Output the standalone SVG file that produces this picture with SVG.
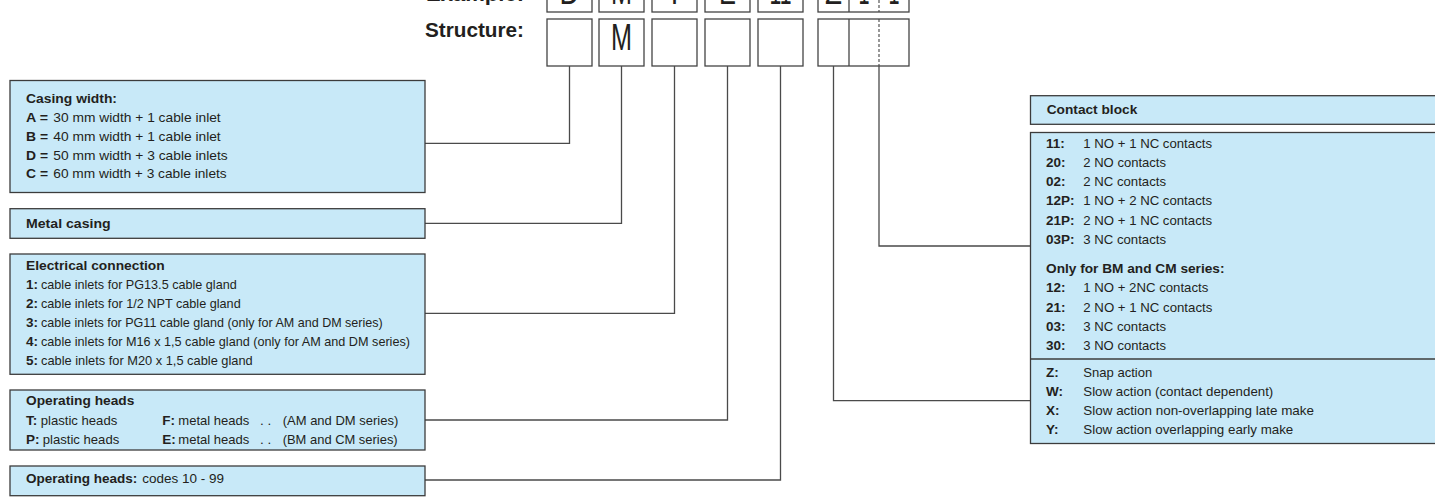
<svg xmlns="http://www.w3.org/2000/svg" width="1435" height="497" viewBox="0 0 1435 497">
<style>
.box{fill:#c8e9f8;stroke:#3c3c3c;stroke-width:1.3}
.sb{fill:#fff;stroke:#444;stroke-width:1.3}
.dash{fill:none;stroke:#444;stroke-width:1.1;stroke-dasharray:3 2}
.wire{fill:none;stroke:#4a4a4a;stroke-width:1.3}
.t{font-family:"Liberation Sans",Arial,sans-serif;font-size:13.5px;fill:#231f20}
.t text{font-family:"Liberation Sans",Arial,sans-serif;font-size:13.5px;fill:#231f20}
.b{font-weight:bold}
.big{font-family:"Liberation Sans",Arial,sans-serif;font-size:37px;fill:#231f20;text-anchor:middle}
.lab{font-family:"Liberation Sans",Arial,sans-serif;font-size:21px;font-weight:bold;fill:#231f20;text-anchor:end}
</style>
<rect width="1435" height="497" fill="#fff"/>

<g id="header">
  <text class="lab" x="524" y="1" textLength="98" lengthAdjust="spacingAndGlyphs">Example:</text>
  <text class="lab" x="524" y="37" textLength="99" lengthAdjust="spacingAndGlyphs">Structure:</text>
</g>

<g id="example-row">
  <rect class="sb" x="547" y="-35" width="45" height="47"/>
  <rect class="sb" x="599" y="-35" width="45" height="47"/>
  <rect class="sb" x="652" y="-35" width="45" height="47"/>
  <rect class="sb" x="705" y="-35" width="45" height="47"/>
  <rect class="sb" x="758" y="-35" width="45" height="47"/>
  <rect class="sb" x="818" y="-35" width="91" height="47"/>
  <line x1="849" y1="-35" x2="849" y2="12" stroke="#444" stroke-width="1.3"/>
  <line class="dash" x1="879" y1="-35" x2="879" y2="12"/>
  <text class="big" x="569.5" y="4" textLength="20" lengthAdjust="spacingAndGlyphs">D</text>
  <text class="big" x="621.5" y="4" textLength="21" lengthAdjust="spacingAndGlyphs">M</text>
  <text class="big" x="674.5" y="4" textLength="17" lengthAdjust="spacingAndGlyphs">T</text>
  <text class="big" x="727.5" y="4" textLength="17" lengthAdjust="spacingAndGlyphs">E</text>
  <text class="big" x="780.5" y="4" textLength="22" lengthAdjust="spacingAndGlyphs">11</text>
  <text class="big" x="833.5" y="4" textLength="17" lengthAdjust="spacingAndGlyphs">Z</text>
  <text class="big" x="864" y="4" textLength="11" lengthAdjust="spacingAndGlyphs">1</text>
  <text class="big" x="894" y="4" textLength="11" lengthAdjust="spacingAndGlyphs">1</text>
</g>

<g id="structure-row">
  <rect class="sb" x="547" y="19" width="45" height="47"/>
  <rect class="sb" x="599" y="19" width="45" height="47"/>
  <rect class="sb" x="652" y="19" width="45" height="47"/>
  <rect class="sb" x="705" y="19" width="45" height="47"/>
  <rect class="sb" x="758" y="19" width="45" height="47"/>
  <rect class="sb" x="818" y="19" width="91" height="47"/>
  <line x1="849" y1="19" x2="849" y2="66" stroke="#444" stroke-width="1.3"/>
  <line class="dash" x1="879" y1="19" x2="879" y2="66"/>
  <text class="big" x="621.5" y="50" textLength="21" lengthAdjust="spacingAndGlyphs">M</text>
</g>

<g id="connectors">
  <path class="wire" d="M569.5 66 V143.3 H425"/>
  <path class="wire" d="M621.5 66 V223.3 H425"/>
  <path class="wire" d="M674.5 66 V313.3 H425"/>
  <path class="wire" d="M727.5 66 V420 H425"/>
  <path class="wire" d="M780.5 66 V480 H425"/>
  <path class="wire" d="M833.5 66 V400.7 H1030"/>
  <path class="wire" d="M879 66 V246 H1030"/>
</g>

<g id="casing-width" class="t">
  <rect class="box" x="10" y="80.5" width="415" height="112"/>
  <text class="b" x="26" y="103" textLength="91" lengthAdjust="spacingAndGlyphs">Casing width:</text>
  <text class="b" x="26" y="122" textLength="22" lengthAdjust="spacingAndGlyphs">A =</text>
  <text x="53.3" y="122" textLength="167.4" lengthAdjust="spacingAndGlyphs">30 mm width + 1 cable inlet</text>
  <text class="b" x="26" y="140.7" textLength="22" lengthAdjust="spacingAndGlyphs">B =</text>
  <text x="53.3" y="140.7" textLength="167.4" lengthAdjust="spacingAndGlyphs">40 mm width + 1 cable inlet</text>
  <text class="b" x="26" y="159.5" textLength="22" lengthAdjust="spacingAndGlyphs">D =</text>
  <text x="53.3" y="159.5" textLength="174.4" lengthAdjust="spacingAndGlyphs">50 mm width + 3 cable inlets</text>
  <text class="b" x="26" y="178.3" textLength="22" lengthAdjust="spacingAndGlyphs">C =</text>
  <text x="53.3" y="178.3" textLength="173.4" lengthAdjust="spacingAndGlyphs">60 mm width + 3 cable inlets</text>
</g>

<g id="metal-casing" class="t">
  <rect class="box" x="10" y="208.7" width="415" height="29.6"/>
  <text class="b" x="26" y="228.3" textLength="84.7" lengthAdjust="spacingAndGlyphs">Metal casing</text>
</g>

<g id="electrical-connection" class="t">
  <rect class="box" x="10" y="254" width="415" height="120.3"/>
  <text class="b" x="26" y="269.5" textLength="138.7" lengthAdjust="spacingAndGlyphs">Electrical connection</text>
  <text class="b" x="26" y="289">1:</text>
  <text x="41" y="289" textLength="195.7" lengthAdjust="spacingAndGlyphs">cable inlets for PG13.5 cable gland</text>
  <text class="b" x="26" y="308.2">2:</text>
  <text x="41" y="308.2" textLength="199.7" lengthAdjust="spacingAndGlyphs">cable inlets for 1/2 NPT cable gland</text>
  <text class="b" x="26" y="327.3">3:</text>
  <text x="41" y="327.3" textLength="341.7" lengthAdjust="spacingAndGlyphs">cable inlets for PG11 cable gland (only for AM and DM series)</text>
  <text class="b" x="26" y="346.3">4:</text>
  <text x="41" y="346.3" textLength="369" lengthAdjust="spacingAndGlyphs">cable inlets for M16 x 1,5 cable gland (only for AM and DM series)</text>
  <text class="b" x="26" y="365.4">5:</text>
  <text x="41" y="365.4" textLength="211.7" lengthAdjust="spacingAndGlyphs">cable inlets for M20 x 1,5 cable gland</text>
</g>

<g id="operating-heads" class="t">
  <rect class="box" x="10" y="390" width="415" height="60"/>
  <text class="b" x="26" y="405" textLength="108.3" lengthAdjust="spacingAndGlyphs">Operating heads</text>
  <text class="b" x="26" y="424.5">T:</text>
  <text x="40.7" y="424.5" textLength="76.6" lengthAdjust="spacingAndGlyphs">plastic heads</text>
  <text class="b" x="162.3" y="424.5">F:</text>
  <text x="178.3" y="424.5" textLength="71" lengthAdjust="spacingAndGlyphs">metal heads</text>
  <text x="260" y="424.5">. .</text>
  <text x="282.7" y="424.5" textLength="115.6" lengthAdjust="spacingAndGlyphs">(AM and DM series)</text>
  <text class="b" x="26" y="443.8">P:</text>
  <text x="42.7" y="443.8" textLength="76.6" lengthAdjust="spacingAndGlyphs">plastic heads</text>
  <text class="b" x="162.3" y="443.8">E:</text>
  <text x="178.3" y="443.8" textLength="71" lengthAdjust="spacingAndGlyphs">metal heads</text>
  <text x="260" y="443.8">. .</text>
  <text x="282.7" y="443.8" textLength="115" lengthAdjust="spacingAndGlyphs">(BM and CM series)</text>
</g>

<g id="operating-heads-codes" class="t">
  <rect class="box" x="10" y="466" width="415" height="29.7"/>
  <text class="b" x="26" y="483.3" textLength="111.3" lengthAdjust="spacingAndGlyphs">Operating heads:</text>
  <text x="142.3" y="483.3" textLength="81.7" lengthAdjust="spacingAndGlyphs">codes 10 - 99</text>
</g>

<g id="contact-block" class="t">
  <rect class="box" x="1030.5" y="95.7" width="420" height="28.6"/>
  <text class="b" x="1046.7" y="114.3" textLength="90.6" lengthAdjust="spacingAndGlyphs">Contact block</text>
  <rect class="box" x="1030.5" y="132.5" width="420" height="311"/>
  <line x1="1030.5" y1="359" x2="1435" y2="359" stroke="#3c3c3c" stroke-width="1.3"/>
  <text class="b" x="1046" y="147.7">11:</text><text x="1083.3" y="147.7" textLength="128.7" lengthAdjust="spacingAndGlyphs">1 NO + 1 NC contacts</text>
  <text class="b" x="1046" y="166.7">20:</text><text x="1083.3" y="166.7" textLength="82.7" lengthAdjust="spacingAndGlyphs">2 NO contacts</text>
  <text class="b" x="1046" y="185.7">02:</text><text x="1083.3" y="185.7" textLength="82.7" lengthAdjust="spacingAndGlyphs">2 NC contacts</text>
  <text class="b" x="1046" y="205.3">12P:</text><text x="1083.3" y="205.3" textLength="128.7" lengthAdjust="spacingAndGlyphs">1 NO + 2 NC contacts</text>
  <text class="b" x="1046" y="224.7">21P:</text><text x="1083.3" y="224.7" textLength="128.7" lengthAdjust="spacingAndGlyphs">2 NO + 1 NC contacts</text>
  <text class="b" x="1046" y="243.8">03P:</text><text x="1083.3" y="243.8" textLength="82.7" lengthAdjust="spacingAndGlyphs">3 NC contacts</text>
  <text class="b" x="1046" y="273.3" textLength="178.5" lengthAdjust="spacingAndGlyphs">Only for BM and CM series:</text>
  <text class="b" x="1046" y="292.3">12:</text><text x="1083.3" y="292.3" textLength="125" lengthAdjust="spacingAndGlyphs">1 NO + 2NC contacts</text>
  <text class="b" x="1046" y="311.6">21:</text><text x="1083.3" y="311.6" textLength="129" lengthAdjust="spacingAndGlyphs">2 NO + 1 NC contacts</text>
  <text class="b" x="1046" y="330.7">03:</text><text x="1083.3" y="330.7" textLength="82.7" lengthAdjust="spacingAndGlyphs">3 NC contacts</text>
  <text class="b" x="1046" y="350">30:</text><text x="1083.3" y="350" textLength="82.7" lengthAdjust="spacingAndGlyphs">3 NO contacts</text>
  <text class="b" x="1046" y="376.7">Z:</text><text x="1083.3" y="376.7" textLength="69" lengthAdjust="spacingAndGlyphs">Snap action</text>
  <text class="b" x="1046" y="395.7">W:</text><text x="1083.3" y="395.7" textLength="190" lengthAdjust="spacingAndGlyphs">Slow action (contact dependent)</text>
  <text class="b" x="1046" y="415">X:</text><text x="1083.3" y="415" textLength="230.7" lengthAdjust="spacingAndGlyphs">Slow action non-overlapping late make</text>
  <text class="b" x="1046" y="434">Y:</text><text x="1083.3" y="434" textLength="210" lengthAdjust="spacingAndGlyphs">Slow action overlapping early make</text>
</g>
</svg>
